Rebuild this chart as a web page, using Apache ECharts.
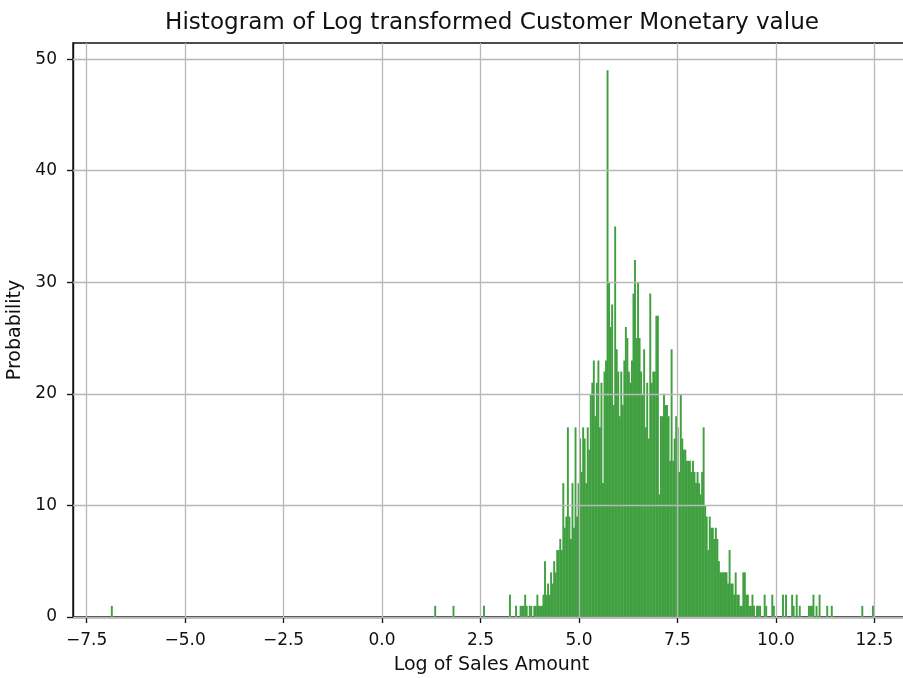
<!DOCTYPE html>
<html>
<head>
<meta charset="utf-8">
<script src="https://cdn.jsdelivr.net/npm/echarts@6/dist/echarts.min.js"></script>
<style>
  html, body { margin: 0; padding: 0; background: #fff; }
  #chart { width: 903px; height: 678px; }
</style>
</head>
<body>
<div id="chart"></div>
<script>
// Histogram: 500 equal-width bins over the log-transformed monetary values
const binStart = -6.88;
const binWidth = 0.03873;

// isolated low-value bins (bin index, count)
const lowBins = [0, 212, 224, 244];
const lowCounts = [1, 1, 1, 1];

// contiguous core of the distribution, starting at bin coreFirstBin
const coreFirstBin = 261;
const coreCounts = [
  2, 0, 0, 0, 1, 0, 0, 1, 1, 1,
  2, 1, 0, 1, 1, 0, 1, 1, 2, 1,
  1, 1, 2, 5, 2, 3, 2, 4, 3, 5,
  4, 6, 6, 7, 6, 12, 8, 9, 17, 9,
  7, 12, 8, 17, 9, 12, 16, 13, 17, 16,
  12, 17, 15, 20, 21, 23, 18, 21, 23, 17,
  21, 12, 22, 23, 49, 30, 26, 28, 19, 35,
  24, 22, 18, 22, 19, 23, 26, 25, 22, 21,
  23, 29, 32, 25, 30, 25, 22, 20, 24, 17,
  21, 16, 29, 21, 22, 22, 27, 27, 11, 18,
  18, 20, 19, 19, 18, 14, 24, 14, 16, 18,
  17, 13, 20, 16, 15, 15, 14, 14, 14, 13,
  14, 13, 12, 13, 12, 11, 13, 17, 10, 9,
  6, 9, 8, 8, 7, 8, 7, 5, 4, 4,
  4, 4, 4, 3, 6, 3, 3, 2, 4, 2,
  2, 1, 1, 4, 4, 2, 2, 1, 1, 2,
  1, 0, 1, 1, 1, 0, 0, 2, 1, 0,
  0, 0, 2, 1
];

// sparse upper tail (bin index, count)
const highBins = [440, 442, 446, 447, 449, 451, 457, 458, 459, 460, 462, 464, 469, 472, 492, 499];
const highCounts = [2, 2, 2, 1, 2, 1, 1, 1, 1, 2, 1, 2, 1, 1, 1, 1];

// axis ticks
const xTicks = [-7.5, -5.0, -2.5, 0.0, 2.5, 5.0, 7.5, 10.0, 12.5];
const yTicks = [0, 10, 20, 30, 40, 50];

// gather [left edge, right edge, count] for every non-empty bin
const bars = [];
function addBin(index, count) {
  if (count > 0) {
    const lo = binStart + index * binWidth;
    bars.push([lo, lo + binWidth, count]);
  }
}
lowBins.forEach((b, k) => addBin(b, lowCounts[k]));
coreCounts.forEach((c, k) => addBin(coreFirstBin + k, c));
highBins.forEach((b, k) => addBin(b, highCounts[k]));

const font = 'DejaVu Sans';
const chart = echarts.init(document.getElementById('chart'), null, { renderer: 'canvas' });

const gridLineStyle = { color: '#b8b8b8', width: 1.3, type: 'solid' };
const gridLines = xTicks.map(v => ({ xAxis: v })).concat(yTicks.map(v => ({ yAxis: v })));

chart.setOption({
  animation: false,
  backgroundColor: '#fff',
  title: {
    text: 'Histogram of Log transformed Customer Monetary value',
    left: 487,
    textAlign: 'center',
    top: 6,
    textStyle: { fontFamily: font, fontSize: 23.1, fontWeight: 'normal', color: '#111' }
  },
  grid: {
    left: 73, top: 43, width: 837, bottom: 61,
    outerBoundsMode: 'none',
    containLabel: false,
    show: true, borderColor: '#111', borderWidth: 1.4, backgroundColor: 'transparent'
  },
  xAxis: {
    type: 'value',
    min: -7.846, max: 13.406,
    name: 'Log of Sales Amount',
    nameLocation: 'middle',
    nameGap: 39,
    nameTextStyle: { fontFamily: font, fontSize: 19, color: '#111' },
    axisLine: { show: true, onZero: false, lineStyle: { color: '#111', width: 1.4 } },
    axisTick: { show: true, length: 6, inside: false, customValues: xTicks, lineStyle: { color: '#111', width: 1.3 } },
    axisLabel: {
      customValues: xTicks,
      margin: 15,
      fontFamily: font, fontSize: 17, color: '#111',
      formatter: v => (v < 0 ? '\u2212' : '') + Math.abs(v).toFixed(1)
    },
    splitLine: { show: false }
  },
  yAxis: {
    type: 'value',
    min: 0, max: 51.45,
    name: 'Probability',
    nameLocation: 'middle',
    nameGap: 47,
    nameRotate: 90,
    nameTextStyle: { fontFamily: font, fontSize: 19, color: '#111' },
    axisLine: { show: true, onZero: false, lineStyle: { color: '#111', width: 1.4 } },
    axisTick: { show: true, length: 6, inside: false, customValues: yTicks, lineStyle: { color: '#111', width: 1.3 } },
    axisLabel: {
      customValues: yTicks,
      margin: 16,
      fontFamily: font, fontSize: 17, color: '#111',
      formatter: v => String(v)
    },
    splitLine: { show: false }
  },
  series: [{
    type: 'custom',
    clip: true,
    data: bars,
    encode: { x: [0, 1], y: 2 },
    renderItem: function (params, api) {
      const p0 = api.coord([api.value(0), api.value(2)]);
      const p1 = api.coord([api.value(1), 0]);
      // slight overlap so neighbouring bins fuse into one solid mass
      return {
        type: 'rect',
        shape: { x: p0[0] - 0.2, y: p0[1], width: p1[0] - p0[0] + 0.4, height: p1[1] - p0[1] },
        style: { fill: '#40a040' }
      };
    },
    markLine: {
      silent: true,
      symbol: ['none', 'none'],
      label: { show: false },
      lineStyle: gridLineStyle,
      data: gridLines
    }
  }]
});
</script>
</body>
</html>
